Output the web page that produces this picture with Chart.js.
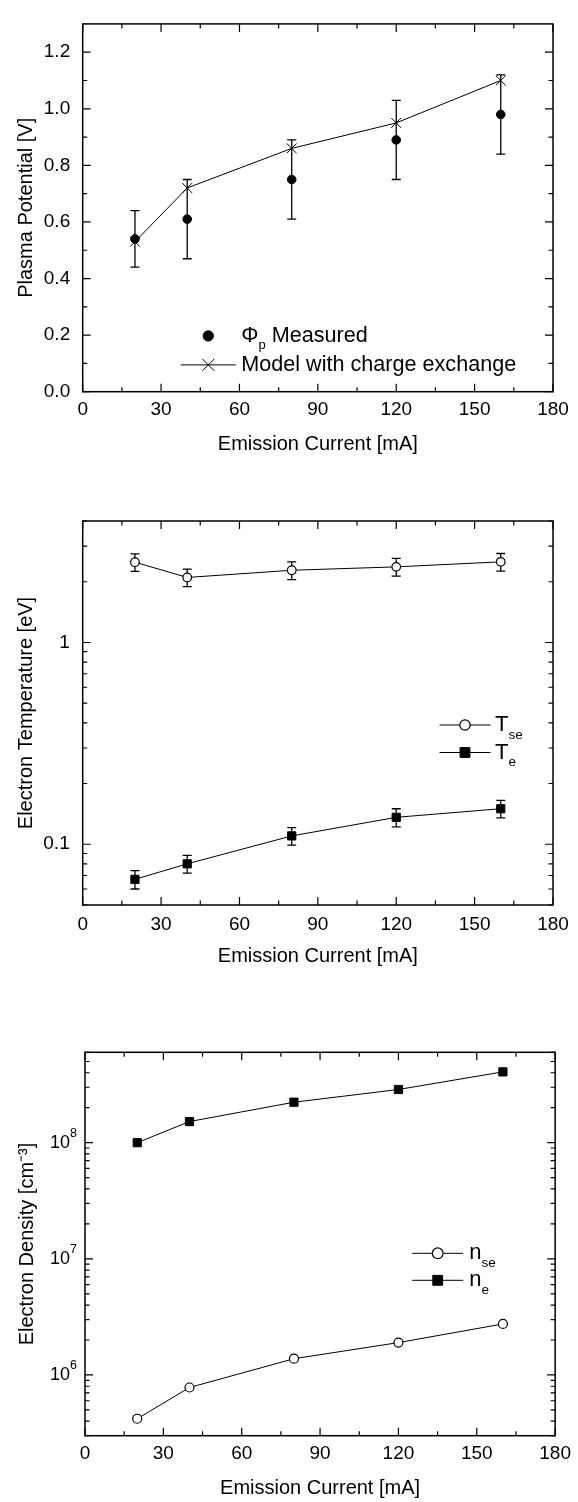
<!DOCTYPE html>
<html>
<head>
<meta charset="utf-8">
<script src="https://cdn.jsdelivr.net/npm/chart.js@4.4.1/dist/chart.umd.min.js"></script>
<style>
  html, body { margin: 0; padding: 0; background: #fff; }
  body { width: 578px; height: 1502px; position: relative; overflow: hidden; }
  .box { position: absolute; left: 0; width: 578px; }
</style>
</head>
<body>
<div class="box" style="top:0;height:480px"><canvas id="c1"></canvas></div>
<div class="box" style="top:490px;height:500px"><canvas id="c2"></canvas></div>
<div class="box" style="top:1000px;height:502px"><canvas id="c3"></canvas></div>
<script>
// --- data ---
const current = [20, 40, 80, 120, 160];            // Emission Current [mA]
const xTicks = [0, 30, 60, 90, 120, 150, 180];
const xMinor = [15, 45, 75, 105, 135, 165];

// top panel: plasma potential [V]
const phiMeasured = [0.54, 0.61, 0.75, 0.89, 0.98];
const phiErr = [0.10, 0.14, 0.14, 0.14, 0.14];
const phiModel = [0.53, 0.72, 0.86, 0.95, 1.10];
const phiTicks = [0, 0.2, 0.4, 0.6, 0.8, 1.0, 1.2];
const phiMinor = [0.1, 0.3, 0.5, 0.7, 0.9, 1.1];

// middle panel: electron temperature [eV]
const tSe = [2.50, 2.10, 2.28, 2.37, 2.51];
const tSeErr = [0.25, 0.21, 0.23, 0.24, 0.25];
const tE = [0.067, 0.080, 0.110, 0.136, 0.150];
const tEErr = [0.007, 0.008, 0.011, 0.014, 0.015];
const tTicks = [0.1, 1];
const tTickLabels = ["0.1", "1"];
const tMinor = [0.05, 0.06, 0.07, 0.08, 0.09, 0.2, 0.3, 0.4, 0.5, 0.6, 0.7, 0.8, 0.9, 2, 3, 4];

// bottom panel: electron density [cm^-3]
const nSe = [4.2e5, 7.8e5, 1.38e6, 1.9e6, 2.75e6];
const nE = [1.0e8, 1.52e8, 2.23e8, 2.87e8, 4.07e8];
const nTicks = [1e6, 1e7, 1e8];
const nTickLabels = ["10^{6}", "10^{7}", "10^{8}"];
const nMinor = [3e5, 4e5, 5e5, 6e5, 7e5, 8e5, 9e5,
                2e6, 3e6, 4e6, 5e6, 6e6, 7e6, 8e6, 9e6,
                2e7, 3e7, 4e7, 5e7, 6e7, 7e7, 8e7, 9e7,
                2e8, 3e8, 4e8, 5e8, 6e8];

const FONT = "'Liberation Sans', Arial, Helvetica, sans-serif";
Chart.defaults.font.family = FONT;
Chart.defaults.color = "#000";
Chart.defaults.animation = false;

const pts = (ys) => current.map((x, i) => ({ x, y: ys[i] }));

// text with _{...} subscripts and ^{...} superscripts; returns width
function richParts(text) {
  return text.split(/([_^]\{[^}]*\})/).filter(Boolean).map((p) =>
    p[1] === "{" ? { t: p.slice(2, -1), kind: p[0] } : { t: p, kind: "" });
}
function drawRich(ctx, text, x, y, size, small, measureOnly) {
  let w = 0;
  richParts(text).forEach(({ t, kind }) => {
    ctx.font = `${kind ? small : size}px ${FONT}`;
    const dy = kind === "_" ? size * 0.45 : kind === "^" ? -size * 0.5 : 0;
    if (!measureOnly) ctx.fillText(t, x + w, y + dy);
    w += ctx.measureText(t).width + (kind === "^" ? 1 : 0);
  });
  return w;
}

// box frame + inward ticks on all four sides
const frameTicks = {
  id: "frameTicks",
  afterDraw(chart, args, o) {
    const { ctx, chartArea: a, scales: { x, y } } = chart;
    ctx.save();
    ctx.strokeStyle = "#000";
    ctx.lineWidth = 1.2;
    const mark = (vals, len, horiz) => vals.forEach((v) => {
      ctx.beginPath();
      if (horiz) {
        const px = x.getPixelForValue(v);
        ctx.moveTo(px, a.bottom); ctx.lineTo(px, a.bottom - len);
        ctx.moveTo(px, a.top); ctx.lineTo(px, a.top + len);
      } else {
        const py = y.getPixelForValue(v);
        ctx.moveTo(a.left, py); ctx.lineTo(a.left + len, py);
        ctx.moveTo(a.right, py); ctx.lineTo(a.right - len, py);
      }
      ctx.stroke();
    });
    mark(o.xMajor, 8, true); mark(o.xMinor, 4.5, true);
    mark(o.yMajor, 8, false); mark(o.yMinor, 4.5, false);
    ctx.lineWidth = 1.5;
    ctx.strokeRect(a.left, a.top, a.right - a.left, a.bottom - a.top);

    // power-of-ten tick labels with real superscripts
    if (o.powerLabels) {
      ctx.fillStyle = "#000";
      ctx.textBaseline = "middle";
      ctx.textAlign = "left";
      y.ticks.forEach((tk, i) => {
        const label = o.powerLabels[i];
        const py = y.getPixelForValue(tk.value);
        const w = drawRich(ctx, label, 0, 0, 18, 12.5, true);
        drawRich(ctx, label, a.left - 7 - w, py, 18, 12.5);
      });
    }
    ctx.restore();
  },
};

// vertical error bars with caps, drawn under the markers
const errorBars = {
  id: "errorBars",
  beforeDatasetsDraw(chart) {
    const { ctx } = chart;
    ctx.save();
    ctx.strokeStyle = "#000";
    ctx.lineWidth = 1.3;
    chart.data.datasets.forEach((ds, i) => {
      if (!ds.errors) return;
      const meta = chart.getDatasetMeta(i);
      const ys = chart.scales[meta.yAxisID];
      meta.data.forEach((p, j) => {
        const v = ds.data[j].y, e = ds.errors[j];
        const t = ys.getPixelForValue(v + e), b = ys.getPixelForValue(v - e);
        ctx.beginPath();
        ctx.moveTo(p.x, t); ctx.lineTo(p.x, b);
        ctx.moveTo(p.x - 4.5, t); ctx.lineTo(p.x + 4.5, t);
        ctx.moveTo(p.x - 4.5, b); ctx.lineTo(p.x + 4.5, b);
        ctx.stroke();
      });
    });
    ctx.restore();
  },
};

function drawMarker(ctx, ds, x, y, grow) {
  const r = ds.pointRadius * grow;
  ctx.save();
  ctx.fillStyle = ds.pointBackgroundColor;
  ctx.strokeStyle = "#000";
  ctx.lineWidth = ds.pointBorderWidth || 1;
  ctx.beginPath();
  if (ds.pointStyle === "circle") {
    ctx.arc(x, y, r, 0, Math.PI * 2);
    ctx.fill(); ctx.stroke();
  } else if (ds.pointStyle === "rect") {
    const h = r * Math.SQRT1_2;
    ctx.rect(x - h, y - h, 2 * h, 2 * h);
    ctx.fill(); ctx.stroke();
  } else if (ds.pointStyle === "crossRot") {
    const h = r * Math.SQRT1_2;
    ctx.moveTo(x - h, y - h); ctx.lineTo(x + h, y + h);
    ctx.moveTo(x - h, y + h); ctx.lineTo(x + h, y - h);
    ctx.stroke();
  }
  ctx.restore();
}

// legend inside the plot area
const innerLegend = {
  id: "innerLegend",
  afterDraw(chart, args, o) {
    const { ctx, chartArea: a } = chart;
    ctx.save();
    ctx.fillStyle = "#000";
    ctx.textBaseline = "middle";
    ctx.textAlign = "left";
    chart.data.datasets.forEach((ds, i) => {
      const mx = a.left + o.x, my = a.top + o.y + i * o.rowGap;
      if (ds.showLine !== false) {
        ctx.strokeStyle = "#000";
        ctx.lineWidth = 1;
        ctx.beginPath();
        ctx.moveTo(mx - o.lineHalf, my); ctx.lineTo(mx + o.lineHalf, my);
        ctx.stroke();
      }
      drawMarker(ctx, ds, mx, my, o.grow);
      ctx.fillStyle = "#000";
      drawRich(ctx, ds.label, mx + o.textGap, my, o.size, o.subSize);
    });
    ctx.restore();
  },
};

function xAxis(height, pad, titlePad) {
  return {
    type: "linear", min: 0, max: 180,
    afterBuildTicks: (s) => { s.ticks = xTicks.map((v) => ({ value: v })); },
    afterFit: (s) => { s.height = height; },
    grid: { display: false, drawTicks: false },
    border: { display: false },
    ticks: { autoSkip: false, maxRotation: 0, padding: pad, font: { size: 19 }, color: "#000" },
    title: { display: true, text: "Emission Current [mA]", font: { size: 20 }, color: "#000",
             padding: { top: 0, bottom: titlePad } },
  };
}

function yGrid(width, pad, title, titlePad) {
  return {
    afterFit: (s) => { s.width = width; },
    grid: { display: false, drawTicks: false },
    border: { display: false },
    ticks: { autoSkip: false, padding: pad, font: { size: 19 }, color: "#000" },
    title: { display: true, text: title, font: { size: 20 }, color: "#000",
             padding: { top: titlePad, bottom: 0 } },
  };
}

const common = (padding) => ({
  responsive: true,
  maintainAspectRatio: false,
  animation: false,
  layout: { padding },
});

// --- panel 1: plasma potential ---
const y1 = yGrid(82.7, 12.5, "Plasma Potential [V]", 14);
Object.assign(y1, {
  type: "linear", min: 0, max: 1.3,
  afterBuildTicks: (s) => { s.ticks = phiTicks.map((v) => ({ value: v })); },
});
y1.ticks.callback = (v) => v.toFixed(1);

new Chart(document.getElementById("c1"), {
  type: "scatter",
  data: {
    datasets: [
      { label: "Φ_{p} Measured", data: pts(phiMeasured), errors: phiErr, showLine: false,
        pointStyle: "circle", pointRadius: 4.3, pointBackgroundColor: "#000",
        pointBorderColor: "#000", pointBorderWidth: 1 },
      { label: "Model with charge exchange", data: pts(phiModel), showLine: true,
        borderColor: "#000", borderWidth: 1, pointStyle: "crossRot", pointRadius: 7,
        pointBackgroundColor: "#000", pointBorderColor: "#000", pointBorderWidth: 1 },
    ],
  },
  options: Object.assign(common({ top: 8, right: 25, bottom: 0, left: 0 }), {
    scales: { x: xAxis(88.3, 6.2, 23.7), y: y1 },
    plugins: {
      legend: { display: false }, tooltip: { enabled: false },
      frameTicks: { xMajor: xTicks, xMinor, yMajor: phiTicks, yMinor: phiMinor },
      innerLegend: { x: 125.6, y: 312, rowGap: 29, lineHalf: 27.5, textGap: 33,
                     grow: 1.2, size: 21.6, subSize: 13 },
    },
  }),
  plugins: [errorBars, frameTicks, innerLegend],
});

// --- panel 2: electron temperature ---
const y2 = yGrid(82.7, 13, "Electron Temperature [eV]", 14.5);
Object.assign(y2, {
  type: "logarithmic", min: 0.05, max: 4,
  afterBuildTicks: (s) => { s.ticks = tTicks.map((v) => ({ value: v })); },
});
y2.ticks.callback = (v, i) => tTickLabels[i];

new Chart(document.getElementById("c2"), {
  type: "scatter",
  data: {
    datasets: [
      { label: "T_{se}", data: pts(tSe), errors: tSeErr, showLine: true,
        borderColor: "#000", borderWidth: 1, pointStyle: "circle", pointRadius: 4.3,
        pointBackgroundColor: "#fff", pointBorderColor: "#000", pointBorderWidth: 1.2 },
      { label: "T_{e}", data: pts(tE), errors: tEErr, showLine: true,
        borderColor: "#000", borderWidth: 1, pointStyle: "rect", pointRadius: 5.8,
        pointBackgroundColor: "#000", pointBorderColor: "#000", pointBorderWidth: 1 },
    ],
  },
  options: Object.assign(common({ top: 31, right: 25, bottom: 0, left: 0 }), {
    scales: { x: xAxis(85, 8.3, 22), y: y2 },
    plugins: {
      legend: { display: false }, tooltip: { enabled: false },
      frameTicks: { xMajor: xTicks, xMinor, yMajor: tTicks, yMinor: tMinor },
      innerLegend: { x: 382.3, y: 204, rowGap: 27.5, lineHalf: 25.5, textGap: 30,
                     grow: 1.2, size: 22, subSize: 13.5 },
    },
  }),
  plugins: [errorBars, frameTicks, innerLegend],
});

// --- panel 3: electron density ---
const y3 = yGrid(85, 7, "Electron Density [cm⁻³]", 15.6);
Object.assign(y3, {
  type: "logarithmic", min: 3e5, max: 6e8,
  afterBuildTicks: (s) => { s.ticks = nTicks.map((v) => ({ value: v })); },
});
y3.ticks.display = false;   // drawn by frameTicks with proper superscripts

new Chart(document.getElementById("c3"), {
  type: "scatter",
  data: {
    datasets: [
      { label: "n_{se}", data: pts(nSe), showLine: true,
        borderColor: "#000", borderWidth: 1, pointStyle: "circle", pointRadius: 4.5,
        pointBackgroundColor: "#fff", pointBorderColor: "#000", pointBorderWidth: 1.2 },
      { label: "n_{e}", data: pts(nE), showLine: true,
        borderColor: "#000", borderWidth: 1, pointStyle: "rect", pointRadius: 5.8,
        pointBackgroundColor: "#000", pointBorderColor: "#000", pointBorderWidth: 1 },
    ],
  },
  options: Object.assign(common({ top: 52.3, right: 21.5, bottom: 0, left: 0 }), {
    scales: { x: xAxis(66.3, 7, 1.7), y: y3 },
    plugins: {
      legend: { display: false }, tooltip: { enabled: false },
      frameTicks: { xMajor: xTicks, xMinor, yMajor: nTicks, yMinor: nMinor,
                    powerLabels: nTickLabels },
      innerLegend: { x: 352.7, y: 201, rowGap: 27, lineHalf: 25.5, textGap: 31.5,
                     grow: 1.2, size: 22, subSize: 13.5 },
    },
  }),
  plugins: [errorBars, frameTicks, innerLegend],
});
</script>
</body>
</html>
